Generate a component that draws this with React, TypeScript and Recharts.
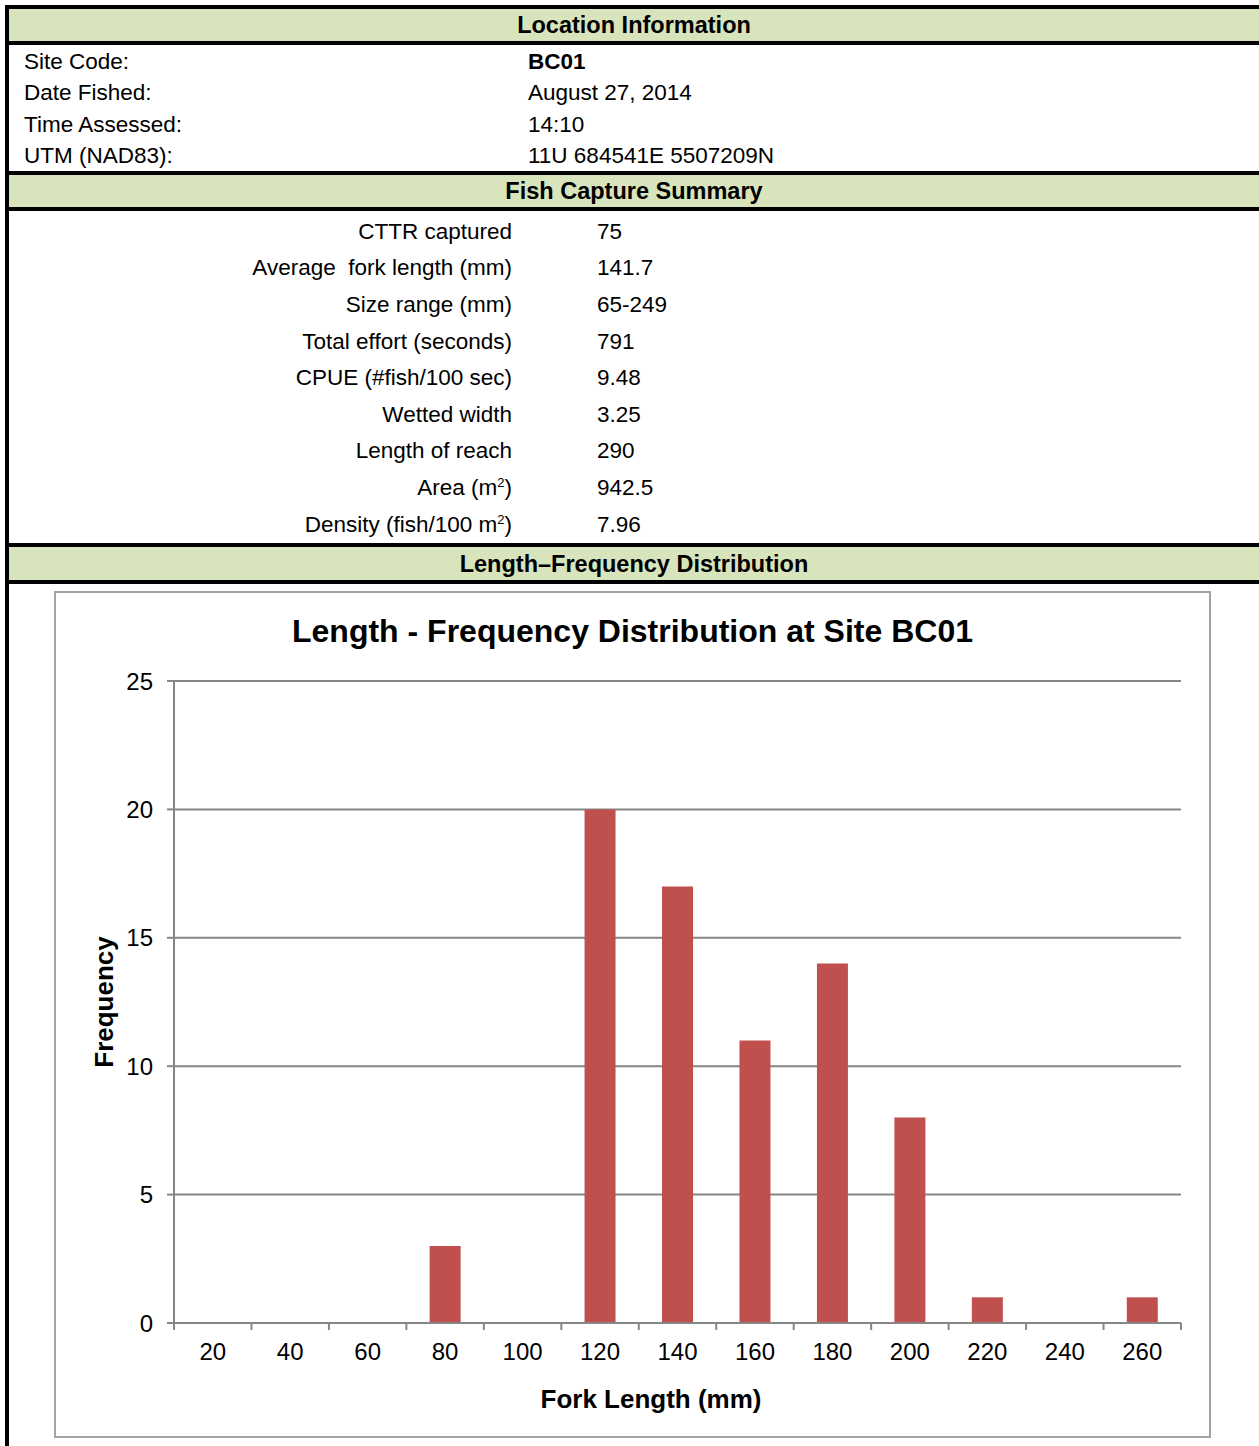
import React from "react";
import { BarChart, Bar, XAxis, YAxis, CartesianGrid } from "recharts";

const FONT = '"Liberation Sans", Arial, sans-serif';
const GREEN = "#D8E4BC";
const BAR_RED = "#C0504D";
const GRID = "#868686";

const LOCATION_LABELS = ["Site Code:", "Date Fished:", "Time Assessed:", "UTM (NAD83):"];
const LOCATION_VALUES = ["BC01", "August 27, 2014", "14:10", "11U 684541E 5507209N"];

const SUMMARY_LABELS = [
  "CTTR captured",
  "Average  fork length (mm)",
  "Size range (mm)",
  "Total effort (seconds)",
  "CPUE (#fish/100 sec)",
  "Wetted width",
  "Length of reach",
  "Area (m^2)",
  "Density (fish/100 m^2)"
];
const SUMMARY_VALUES = ["75", "141.7", "65-249", "791", "9.48", "3.25", "290", "942.5", "7.96"];

const LENGTH_BINS = ["20", "40", "60", "80", "100", "120", "140", "160", "180", "200", "220", "240", "260"];
const FREQUENCY = [0, 0, 0, 3, 0, 20, 17, 11, 14, 8, 1, 0, 1];
const Y_TICKS = [0, 5, 10, 15, 20, 25];

const chartData = LENGTH_BINS.map((bin, i) => ({ bin, count: FREQUENCY[i] }));

// chart geometry (inside the grey frame)
const CHART_W = 1153;
const CHART_H = 843;
const MARGIN = { top: 88, right: 28, bottom: 63, left: 58 };
const Y_AXIS_W = 60;
const PLOT_W = CHART_W - MARGIN.left - Y_AXIS_W - MARGIN.right;
const BAND = PLOT_W / LENGTH_BINS.length;

function renderLabel(text: string) {
  const parts = text.split("^2");
  if (parts.length === 1) return text;
  return (
    <>
      {parts[0]}
      <sup style={{ fontSize: 13, lineHeight: 0 }}>2</sup>
      {parts[1]}
    </>
  );
}

function BoundaryTick(props: any) {
  const { x, y, payload, index } = props;
  const left = x - BAND / 2;
  const right = x + BAND / 2;
  return (
    <g>
      <line x1={left} x2={left} y1={y} y2={y + 7} stroke={GRID} strokeWidth={2} />
      {index === LENGTH_BINS.length - 1 && (
        <line x1={right} x2={right} y1={y} y2={y + 7} stroke={GRID} strokeWidth={2} />
      )}
      <text x={x} y={y + 37} textAnchor="middle" fontSize={24} fill="#000" fontFamily={FONT}>
        {payload.value}
      </text>
    </g>
  );
}

function HLine({ top }: { top: number }) {
  return <div style={{ position: "absolute", left: 5, right: 0, top, height: 4, background: "#000" }} />;
}

function Band({ top, height, title }: { top: number; height: number; title: string }) {
  return (
    <div
      style={{
        position: "absolute",
        left: 9,
        right: 0,
        top,
        height,
        background: GREEN,
        display: "flex",
        alignItems: "center",
        justifyContent: "center",
        fontWeight: "bold",
        fontSize: 23.5,
        paddingTop: 1,
        boxSizing: "border-box"
      }}
    >
      {title}
    </div>
  );
}

export default function App() {
  return (
    <div
      style={{
        position: "absolute",
        left: 0,
        top: 0,
        width: 1259,
        height: 1446,
        background: "#fff",
        color: "#000",
        fontFamily: FONT,
        overflow: "hidden"
      }}
    >
      {/* left border */}
      <div style={{ position: "absolute", left: 5, top: 5, width: 4, bottom: 0, background: "#000" }} />

      <HLine top={5} />
      <Band top={9} height={32} title="Location Information" />
      <HLine top={41} />

      {LOCATION_LABELS.map((label, i) => (
        <div
          key={label}
          style={{
            position: "absolute",
            left: 0,
            right: 0,
            top: 46 + i * 31.5,
            height: 31.5,
            display: "flex",
            alignItems: "center",
            fontSize: 22.5
          }}
        >
          <span style={{ position: "absolute", left: 24 }}>{label}</span>
          <span style={{ position: "absolute", left: 528, fontWeight: i === 0 ? "bold" : "normal", whiteSpace: "pre" }}>
            {LOCATION_VALUES[i]}
          </span>
        </div>
      ))}

      <HLine top={171} />
      <Band top={175} height={32} title="Fish Capture Summary" />
      <HLine top={207} />

      {SUMMARY_LABELS.map((label, i) => (
        <div
          key={label}
          style={{
            position: "absolute",
            left: 0,
            right: 0,
            top: 213.5 + i * 36.6,
            height: 36.6,
            display: "flex",
            alignItems: "center",
            fontSize: 22.5
          }}
        >
          <span style={{ position: "absolute", right: 1259 - 512, whiteSpace: "pre" }}>{renderLabel(label)}</span>
          <span style={{ position: "absolute", left: 597 }}>{SUMMARY_VALUES[i]}</span>
        </div>
      ))}

      <HLine top={543} />
      <Band top={547} height={33} title="Length–Frequency Distribution" />
      <HLine top={580} />

      {/* chart frame */}
      <div
        style={{
          position: "absolute",
          left: 54,
          top: 591,
          width: 1157,
          height: 847,
          border: "2px solid #a3a3a3",
          boxSizing: "border-box"
        }}
      >
        <BarChart
          width={CHART_W}
          height={CHART_H}
          data={chartData}
          margin={MARGIN}
          barCategoryGap="30%"
        >
          <CartesianGrid vertical={false} stroke={GRID} strokeWidth={2} />
          <XAxis
            dataKey="bin"
            height={50}
            axisLine={{ stroke: GRID, strokeWidth: 2 }}
            tickLine={false}
            tickSize={0}
            tickMargin={0}
            interval={0}
            tick={<BoundaryTick />}
          />
          <YAxis
            width={Y_AXIS_W}
            domain={[0, 25]}
            ticks={Y_TICKS}
            interval={0}
            axisLine={{ stroke: GRID, strokeWidth: 2 }}
            tickLine={{ stroke: GRID, strokeWidth: 2 }}
            tickSize={7}
            tickMargin={14}
            tick={{ fontSize: 24, fill: "#000", fontFamily: FONT }}
          />
          <Bar dataKey="count" fill={BAR_RED} isAnimationActive={false} />
        </BarChart>

        <div
          style={{
            position: "absolute",
            left: 0,
            right: 0,
            top: 20,
            textAlign: "center",
            fontWeight: "bold",
            fontSize: 32
          }}
        >
          Length - Frequency Distribution at Site BC01
        </div>
        <div
          style={{
            position: "absolute",
            left: 395,
            width: 400,
            top: 791,
            textAlign: "center",
            fontWeight: "bold",
            fontSize: 26
          }}
        >
          Fork Length (mm)
        </div>
        <div
          style={{
            position: "absolute",
            left: 48 - 100,
            top: 409 - 16,
            width: 200,
            height: 32,
            lineHeight: "32px",
            textAlign: "center",
            fontWeight: "bold",
            fontSize: 26,
            transform: "rotate(-90deg)"
          }}
        >
          Frequency
        </div>
      </div>
    </div>
  );
}
